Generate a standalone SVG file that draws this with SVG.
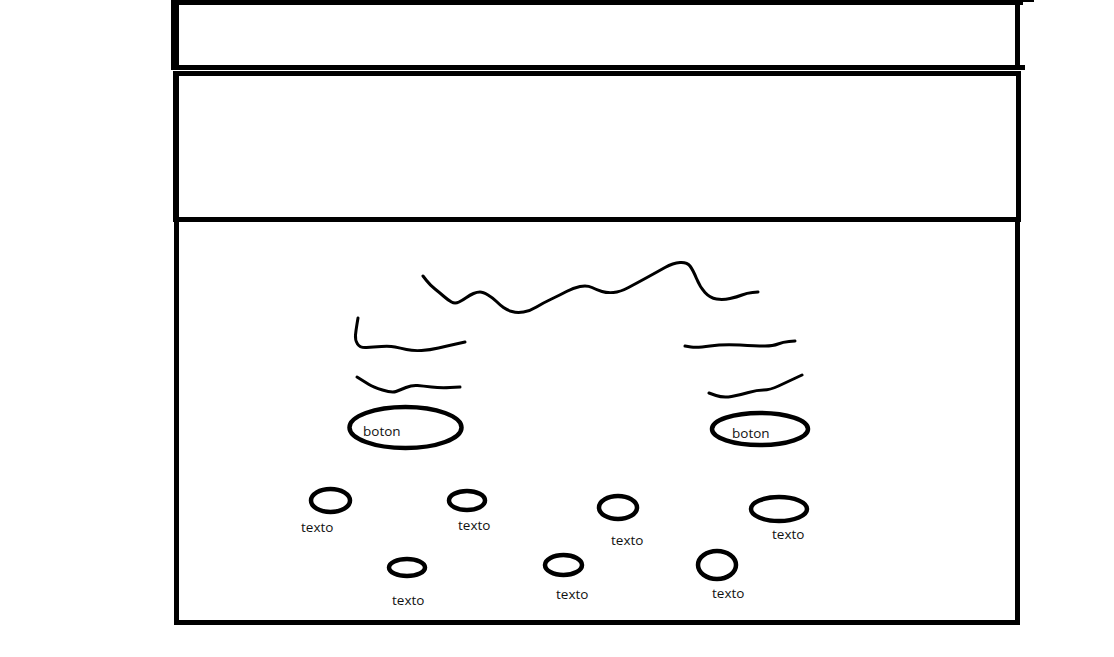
<svg xmlns="http://www.w3.org/2000/svg" width="1114" height="657" viewBox="0 0 1114 657">
<style>
.frame{fill:#000}
.sq{fill:none;stroke:#000;stroke-width:3;stroke-linecap:round;stroke-linejoin:round}
.ov{fill:none;stroke:#000;stroke-width:4.5}
.lb{font-family:"Open Sans","Noto Sans",sans-serif;font-size:13.5px;fill:#111}
</style>
<rect width="1114" height="657" fill="#fff"/>
<g id="header">
<rect class="frame" x="171" y="0" width="852" height="5"/>
<rect class="frame" x="1023" y="0" width="11" height="2"/>
<rect class="frame" x="171" y="0" width="8" height="70"/>
<rect class="frame" x="1015" y="0" width="5" height="70"/>
<rect class="frame" x="171" y="65" width="854" height="5"/>
</g>
<g id="banner">
<rect class="frame" x="173" y="71" width="848" height="5"/>
<rect class="frame" x="173" y="71" width="6" height="151"/>
<rect class="frame" x="1016" y="71" width="5" height="151"/>
<rect class="frame" x="173" y="217" width="848" height="5"/>
</g>
<g id="body">
<rect class="frame" x="174" y="222" width="5" height="403"/>
<rect class="frame" x="1015" y="222" width="5" height="403"/>
<rect class="frame" x="174" y="620" width="846" height="5"/>
</g>
<g id="scribbles">
<path class="sq" d="M423,276 L426.5,280.5 Q430,285 435,289 Q440,293 444,296.5 Q448,300 451.5,302 Q455,304 459,302 Q463,300 466.5,297.5 Q470,295 473.5,293.5 Q477,292 480,292 Q483,292 488,295 Q493,298 496.5,301.5 Q500,305 503.5,307.5 Q507,310 512,311.5 Q517,313 523.5,312 Q530,311 536.5,307 Q543,303 551.5,299 Q560,295 566.5,291.5 Q573,288 580,286.5 Q587,285 592,287.5 Q597,290 602,291.5 Q607,293 613.5,292.5 Q620,292 628.5,287.5 Q637,283 647,277.5 Q657,272 665,267.5 Q673,263 680,262.5 Q687,262 690,266 Q693,270 696.5,278.5 Q700,287 705,292.5 Q710,298 716.5,299 Q723,300 730,298.5 Q737,297 742,295 Q747,293 752.5,292.5 L758,292"/>
<path class="sq" d="M358,318 L357,324 Q356,330 355.5,335 Q355,340 357.5,344 Q360,348 366.5,347.5 Q373,347 381.5,346.5 Q390,346 395,347 Q400,348 406.5,349.5 Q413,351 421.5,350.5 Q430,350 438.5,348 Q447,346 456,344 L465,342"/>
<path class="sq" d="M357,377 L361,379.5 Q365,382 369,384.5 Q373,387 382.5,390 Q392,393 396,391.5 Q400,390 406,387.5 Q412,385 417.5,385.5 Q423,386 431.5,387 Q440,388 450,387.5 L460,387"/>
<path class="sq" d="M685,346 L691,347 Q697,348 710,346 Q723,344 740,345 Q757,346 765,346 Q773,346 778,344 Q783,342 789,341.5 L795,341"/>
<path class="sq" d="M709,393 L716,395.5 Q723,398 731.5,396.5 Q740,395 748.5,392.5 Q757,390 763.5,390 Q770,390 778.5,386 Q787,382 794.5,378.5 L802,375"/>
</g>
<g id="boton1">
<ellipse class="ov" cx="405.5" cy="427.5" rx="56" ry="20.5"/>
<text class="lb" x="363" y="436">boton</text>
</g>
<g id="boton2">
<ellipse class="ov" cx="760" cy="429" rx="48" ry="16"/>
<text class="lb" x="732" y="438">boton</text>
</g>
<g id="texto1">
<ellipse class="ov" cx="330.5" cy="500.5" rx="19.5" ry="11.5"/>
<text class="lb" x="301" y="532">texto</text>
</g>
<g id="texto2">
<ellipse class="ov" cx="467" cy="500.5" rx="18" ry="9.5"/>
<text class="lb" x="458" y="530">texto</text>
</g>
<g id="texto3">
<ellipse class="ov" cx="618" cy="507.5" rx="19" ry="11.5"/>
<text class="lb" x="611" y="545">texto</text>
</g>
<g id="texto4">
<ellipse class="ov" cx="779" cy="509" rx="28" ry="12"/>
<text class="lb" x="772" y="539">texto</text>
</g>
<g id="texto5">
<ellipse class="ov" cx="407" cy="567.5" rx="18" ry="8.5"/>
<text class="lb" x="392" y="605">texto</text>
</g>
<g id="texto6">
<ellipse class="ov" cx="563.5" cy="565" rx="18.5" ry="10"/>
<text class="lb" x="556" y="599">texto</text>
</g>
<g id="texto7">
<ellipse class="ov" cx="717" cy="565" rx="19" ry="14"/>
<text class="lb" x="712" y="598">texto</text>
</g>
</svg>
